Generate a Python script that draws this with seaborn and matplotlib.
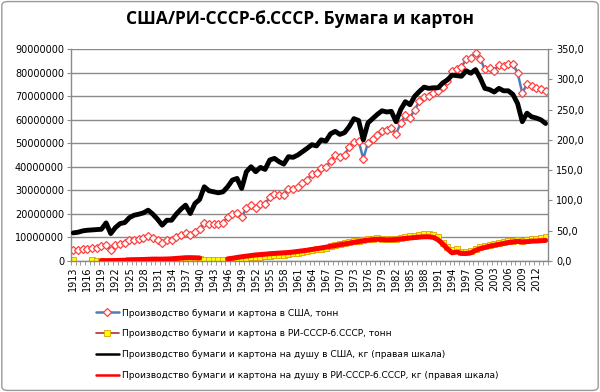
import numpy as np
import pandas as pd
import matplotlib
matplotlib.use("Agg")
import matplotlib.pyplot as plt
from matplotlib.lines import Line2D
from matplotlib.patches import FancyBboxPatch
import matplotlib.ticker as mticker
import seaborn as sns

years = list(range(1913, 2015))

# production in the USA, million tonnes
usa_prod = [4.5, 4.5, 5.0, 5.3, 5.7, 5.5, 6.2, 6.7, 4.8, 6.7, 7.4, 7.8, 8.8, 9.1,
            9.4, 9.9, 10.5, 9.8, 9.1, 7.8, 8.8, 9.1, 10.2, 11.2, 11.9, 10.9, 12.4, 13.4,
            16.2, 15.6, 15.6, 15.6, 16.2, 18.7, 19.9, 20.2, 18.7, 22.3, 23.7, 22.3, 24.0,
            24.0, 27.3, 28.4, 28.0, 28.0, 30.4, 30.4, 31.5, 33.2, 34.4,
            36.8, 37.2, 39.5, 39.8, 42.4, 44.8, 44.2, 45.2, 48.3, 50.7, 51.0, 43.4, 50.2,
            51.6, 53.6, 55.3, 55.8, 56.6, 54.0, 58.5, 62.1, 60.9, 64.2, 67.8, 69.6, 69.9,
            71.2, 72.0, 73.7, 76.3, 80.8, 81.3, 82.2, 85.9, 86.2, 88.4, 85.9, 81.3, 82.0,
            80.8, 83.4, 82.7, 83.7, 83.7, 79.8, 71.3, 75.1, 74.1, 73.4, 73.2, 72.3]

# production in RI-USSR-Russia, million tonnes
rus_prod = [0.3, np.nan, np.nan, np.nan, 0.25, 0.12, 0.05, 0.05, 0.08, 0.12, 0.15, 0.2,
            0.25, 0.3, 0.35, 0.4, 0.45, 0.5, 0.5, 0.5, 0.55, 0.6, 0.7, 0.8, 0.9, 0.9, 0.9, 0.9,
            0.6, 0.35, 0.35, 0.4, 0.45, 0.6, 0.8, 1.0, 1.2, 1.4, 1.6, 1.8, 1.9, 2.1, 2.3,
            2.4, 2.5, 2.7, 2.9, 3.2, 3.5, 3.8, 4.1,
            4.5, 4.9, 5.3, 5.7, 6.2, 6.6, 7.1, 7.5, 7.9, 8.3, 8.7, 9.1, 9.3, 9.5, 9.6, 9.4,
            9.3, 9.4, 9.5, 9.9, 10.2, 10.5, 10.8, 11.1, 11.3, 11.4,
            11.1, 10.2, 7.8, 5.8, 4.6, 5.2, 3.9, 4.0, 4.2, 5.3, 6.0, 6.4, 7.0, 7.3, 7.7,
            8.0, 8.4, 8.6, 8.8, 8.7, 9.0, 9.3, 9.4, 9.6, 10.0]

# per capita in the USA, kg
usa_pc = [46.4, 47.5, 49.7, 50.8, 51.3, 51.9, 52.4, 62.9, 45.3, 55.2, 61.8, 63.5, 71.7,
          75.6, 77.3, 79.5, 83.9, 77.3, 69.0, 59.1, 67.3, 67.3, 77.3, 85.5, 92.2, 78.4,
          94.9, 101.5,
          122.5, 115.9, 114.2, 112.6, 114.2, 122.5, 133.6, 136.3, 119.8, 147.4, 155.6,
          147.4, 154.5, 151.2, 166.7, 169.4, 163.9, 160.0, 172.2, 171.1, 175.0, 180.5, 186.0,
          192, 190, 200, 198, 210, 214, 209, 212, 222, 235, 232, 200, 228, 235, 242, 248,
          246, 247, 230, 250, 263, 258, 272, 280, 287, 285,
          286, 286, 294, 299, 307, 306, 305, 314, 310, 316, 302, 285, 283, 279, 285, 281,
          281, 275, 260, 230, 244, 238, 236, 233, 227]

# per capita in RI-USSR-Russia, kg
rus_pc = [np.nan] * 6 + [
          0.5, 0.5, 0.6, 0.8, 1.0, 1.3, 1.6, 1.9, 2.2, 2.5, 2.8, 3.1, 3.1, 3.1, 3.3, 3.6,
          4.2, 4.8, 5.4, 5.5, 5.3, 5.0] + [np.nan] * 5 + [
          3.5, 4.5, 5.8, 7.0, 8.0, 9.0, 10.0, 10.6, 11.2, 12.0, 12.5, 13.0, 13.5, 14.0,
          14.8, 15.8, 16.8, 17.8,
          19.0, 20.3, 21.5, 22.8, 24.2, 25.5, 27.0, 28.2, 29.5, 30.8, 32.0, 33.5, 34.5,
          35.3, 36.0, 35.5, 35.0, 35.2, 35.5, 36.5, 37.3, 38.0, 38.8, 39.5, 40.0, 40.0,
          39.0, 35.0, 28.0, 20.0, 13.5, 15.0, 12.5, 12.5, 13.5, 17.5, 20.5, 22.5, 24.5,
          26.0, 27.5, 29.0, 30.5, 31.5, 32.5, 31.5, 32.0, 32.8, 33.0, 33.5, 34.0]

labels = ["Производство бумаги и картона в США, тонн",
          "Производство бумаги и картона в РИ-СССР-б.СССР, тонн",
          "Производство бумаги и картона на душу в США, кг (правая шкала)",
          "Производство бумаги и картона на душу в РИ-СССР-б.СССР, кг (правая шкала)"]


def frame(vals):
    # gaps in the data split the line into separate pieces
    s = pd.Series(vals, dtype=float)
    df = pd.DataFrame({"year": years, "v": s, "seg": s.isna().cumsum()})
    return df.dropna()


sns.set_style("white")
plt.rcParams["font.family"] = ["DejaVu Sans"]
plt.rcParams["text.color"] = "black"

fig = plt.figure(figsize=(6, 3.92), dpi=100)
ax = fig.add_axes([71 / 600, 1 - 261 / 392, 477 / 600, 212 / 392])
ax2 = ax.twinx()

gray = "#8a8a8a"

sns.lineplot(data=frame(usa_prod), x="year", y="v", units="seg", estimator=None, ax=ax,
             color="#4a7ebb", linewidth=1.8, marker="D", markersize=3.8,
             markerfacecolor="white", markeredgecolor="#ff4040", markeredgewidth=0.9,
             legend=False)
sns.lineplot(data=frame(rus_prod), x="year", y="v", units="seg", estimator=None, ax=ax,
             color="#b03030", linewidth=1.2, marker="s", markersize=4,
             markerfacecolor="#ffff00", markeredgecolor="#e0a000", markeredgewidth=0.6,
             legend=False)
sns.lineplot(data=frame(usa_pc), x="year", y="v", units="seg", estimator=None, ax=ax2,
             color="black", linewidth=3.5, legend=False)
sns.lineplot(data=frame(rus_pc), x="year", y="v", units="seg", estimator=None, ax=ax2,
             color="#ff0000", linewidth=3.6, legend=False)

ax.set_xlim(1912.5, 2014.5)
ax.set_ylim(0, 90)
ax2.set_ylim(0, 350)
ax.set_xlabel("")
ax.set_ylabel("")
ax2.set_ylabel("")

ax.set_yticks(np.arange(0, 91, 10))
ax.yaxis.set_major_formatter(mticker.FuncFormatter(lambda v, p: f"{int(round(v * 1e6))}"))
ax2.set_yticks(np.arange(0, 351, 50))
ax2.yaxis.set_major_formatter(mticker.FuncFormatter(lambda v, p: f"{v:.1f}".replace(".", ",")))

ax.set_xticks(years[::3])
ax.set_xticklabels([str(y) for y in years[::3]], rotation=90)
ax.set_xticks(np.arange(1912.5, 2015, 1), minor=True)

ax.yaxis.grid(True, color=gray, linewidth=1)
ax.xaxis.grid(False)
ax2.grid(False)
ax.set_axisbelow(True)

for a in (ax, ax2):
    for side in ("top", "left", "right", "bottom"):
        a.spines[side].set_visible(False)
ax.spines["left"].set_visible(True)
ax.spines["bottom"].set_visible(True)
ax2.spines["right"].set_visible(True)
for sp in (ax.spines["left"], ax.spines["bottom"], ax2.spines["right"]):
    sp.set_color(gray)
    sp.set_linewidth(1)

ax.tick_params(axis="y", length=3, width=0.8, color=gray, labelsize=7, pad=2, labelcolor="black")
ax2.tick_params(axis="y", length=3, width=0.8, color=gray, labelsize=7, pad=3, labelcolor="black")
ax.tick_params(axis="x", which="major", length=0, labelsize=7, pad=4, labelcolor="black")
ax.tick_params(axis="x", which="minor", length=3, width=0.6, color=gray, bottom=True)

fig.suptitle("США/РИ-СССР-б.СССР. Бумага и картон", x=0.5, y=0.975, color="black",
             fontsize=12.5, fontweight="bold", family=["Open Sans", "DejaVu Sans"])

handles = [
    Line2D([], [], color="#4a7ebb", linewidth=1.8, marker="D", markersize=3.8,
           markerfacecolor="white", markeredgecolor="#ff4040", markeredgewidth=0.9),
    Line2D([], [], color="#b03030", linewidth=1.2, marker="s", markersize=4,
           markerfacecolor="#ffff00", markeredgecolor="#e0a000", markeredgewidth=0.6),
    Line2D([], [], color="black", linewidth=1.8),
    Line2D([], [], color="#ff0000", linewidth=1.8),
]
fig.legend(handles, labels, loc="upper left", bbox_to_anchor=(92 / 600, 1 - 305 / 392),
           frameon=False, fontsize=6.5, handlelength=2.6, handletextpad=0.3,
           labelspacing=1.3, borderaxespad=0, labelcolor="black")

fig.patches.append(FancyBboxPatch((0.003, 0.004), 0.994, 0.992,
                                  boxstyle="round,pad=0,rounding_size=0.01",
                                  transform=fig.transFigure, fill=False,
                                  edgecolor="#9a9a9a", linewidth=1))

fig.savefig("out.png", dpi=100)
